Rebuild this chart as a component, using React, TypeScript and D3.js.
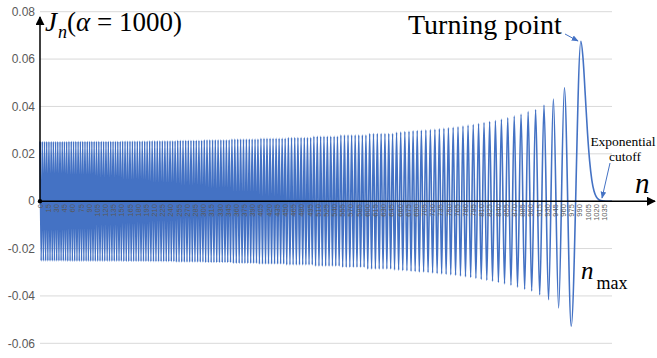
import React from 'react';
import * as d3 from 'd3';

const W = 657;
const H = 358;

// local extrema [n, J_n] (dense band on the left)
const leftExtrema: number[][] = [
  [0.1,0.0252],[2.2,-0.0252],[4.2,0.0252],[6.2,-0.0252],[8.3,0.0252],[10.3,-0.0252],[12.3,0.0252],[14.4,-0.0252],[16.4,0.0252],[18.4,-0.0252],[20.5,0.0252],[22.5,-0.0252],[24.5,0.0252],[26.5,-0.0252],[28.6,0.0252],[30.6,-0.0252],[32.6,0.0252],[34.7,-0.0252],[36.7,0.0252],[38.7,-0.0252],[40.8,0.0252],[42.8,-0.0252],[44.8,0.0252],[46.9,-0.0252],[48.9,0.0252],
  [51.0,-0.0253],[53.1,0.0253],[55.2,-0.0253],[57.3,0.0253],[59.4,-0.0253],[61.5,0.0253],[63.6,-0.0253],[65.7,0.0253],[67.8,-0.0253],[69.9,0.0253],[72.0,-0.0253],[74.1,0.0253],[76.2,-0.0253],[78.3,0.0253],[80.4,-0.0253],[82.5,0.0253],[84.6,-0.0253],[86.7,0.0253],[88.8,-0.0253],[90.9,0.0253],[93.0,-0.0253],[95.1,0.0253],[97.2,-0.0253],[99.3,0.0253],
  [101.4,-0.0253],[103.6,0.0253],[105.8,-0.0253],[107.9,0.0253],[110.1,-0.0253],[112.3,0.0253],[114.5,-0.0253],[116.6,0.0253],[118.8,-0.0253],[121.0,0.0253],[123.2,-0.0253],[125.3,0.0253],[127.5,-0.0253],[129.7,0.0253],[131.9,-0.0253],[134.0,0.0253],[136.2,-0.0253],[138.4,0.0253],[140.6,-0.0253],[142.7,0.0253],[144.9,-0.0253],[147.1,0.0253],[149.2,-0.0253],
  [151.5,0.0254],[153.7,-0.0254],[156.0,0.0254],[158.2,-0.0254],[160.5,0.0254],[162.7,-0.0254],[165.0,0.0254],[167.2,-0.0254],[169.5,0.0254],[171.7,-0.0254],[174.0,0.0254],[176.2,-0.0254],[178.5,0.0254],[180.8,-0.0254],[183.0,0.0254],[185.3,-0.0254],[187.5,0.0254],[189.8,-0.0254],[192.0,0.0254],[194.3,-0.0254],[196.5,0.0254],[198.8,-0.0254],
  [201.1,0.0255],[203.4,-0.0255],[205.7,0.0255],[208.1,-0.0255],[210.4,0.0255],[212.7,-0.0255],[215.1,0.0255],[217.4,-0.0255],[219.8,0.0255],[222.1,-0.0255],[224.4,0.0255],[226.8,-0.0255],[229.1,0.0255],[231.5,-0.0255],[233.8,0.0255],[236.1,-0.0255],[238.5,0.0255],[240.8,-0.0255],[243.2,0.0255],[245.5,-0.0255],[247.8,0.0255],
  [250.2,-0.0257],[252.6,0.0257],[255.0,-0.0257],[257.4,0.0257],[259.9,-0.0257],[262.3,0.0257],[264.7,-0.0257],[267.2,0.0257],[269.6,-0.0257],[272.0,0.0257],[274.5,-0.0257],[276.9,0.0257],[279.3,-0.0257],[281.8,0.0257],[284.2,-0.0257],[286.6,0.0257],[289.1,-0.0257],[291.5,0.0257],[293.9,-0.0257],[296.4,0.0257],[298.8,-0.0257],
  [301.3,0.0259],[303.8,-0.0259],[306.3,0.0259],[308.9,-0.0259],[311.4,0.0259],[313.9,-0.0259],[316.5,0.0259],[319.0,-0.0259],[321.5,0.0259],[324.1,-0.0259],[326.6,0.0259],[329.1,-0.0259],[331.7,0.0259],[334.2,-0.0259],[336.7,0.0259],[339.3,-0.0259],[341.8,0.0259],[344.3,-0.0259],[346.9,0.0259],[349.4,-0.0259],
  [352.0,0.0262],[354.7,-0.0262],[357.3,0.0262],[360.0,-0.0262],[362.6,0.0262],[365.3,-0.0262],[367.9,0.0262],[370.6,-0.0262],[373.2,0.0262],[375.8,-0.0262],[378.5,0.0262],[381.1,-0.0262],[383.8,0.0262],[386.4,-0.0262],[389.1,0.0262],[391.7,-0.0262],[394.4,0.0262],[397.0,-0.0262],[399.7,0.0262],
  [402.4,-0.0265],[405.2,0.0265],[408.0,-0.0265],[410.8,0.0265],[413.6,-0.0265],[416.3,0.0265],[419.1,-0.0265],[421.9,0.0265],[424.7,-0.0265],[427.4,0.0265],[430.2,-0.0265],[433.0,0.0265],[435.8,-0.0265],[438.5,0.0265],[441.3,-0.0265],[444.1,0.0265],[446.9,-0.0265],[449.6,0.0265],
  [452.5,-0.0269],[455.5,0.0269],[458.4,-0.0269],[461.3,0.0269],[464.2,-0.0269],[467.2,0.0269],[470.1,-0.0269],[473.0,0.0269],[475.9,-0.0269],[478.8,0.0269],[481.8,-0.0269],[484.7,0.0269],[487.6,-0.0269],[490.5,0.0269],[493.4,-0.0269],[496.4,0.0269],[499.3,-0.0269],
];

const midExtrema: number[][] = [
  [502.3,0.0274],[505.4,-0.0274],[508.5,0.0274],[511.6,-0.0274],[514.7,0.0274],[517.7,-0.0274],[520.8,0.0274],[523.9,-0.0274],[527.0,0.0274],[530.1,-0.0274],[533.2,0.0274],[536.3,-0.0274],[539.4,0.0274],[542.4,-0.0274],[545.5,0.0274],[548.6,-0.0274],
  [551.8,0.0279],[555.1,-0.0279],[558.4,0.0279],[561.6,-0.0279],[564.9,0.0279],[568.2,-0.0279],[571.5,0.0279],[574.8,-0.0279],[578.0,0.0279],[581.3,-0.0279],[584.6,0.0279],[587.9,-0.0279],[591.2,0.0279],[594.4,-0.0279],[597.7,0.0279],
  [601.1,-0.0286],[604.6,0.0286],[608.1,-0.0286],[611.6,0.0286],[615.1,-0.0286],[618.6,0.0286],[622.1,-0.0286],[625.6,0.0286],[629.1,-0.0286],[632.6,0.0286],[636.1,-0.0286],[639.6,0.0286],[643.1,-0.0286],[646.6,0.0286],
  [650.2,-0.0290],[653.9,0.0291],[657.7,-0.0291],[661.5,0.0292],[665.3,-0.0293],[669.1,0.0294],[672.9,-0.0294],[676.7,0.0295],[680.5,-0.0296],[684.2,0.0297],[688.0,-0.0297],[691.8,0.0298],[695.6,-0.0299],[699.4,0.0299],
  [703.5,-0.0299],[707.6,0.0300],[711.7,-0.0301],[715.9,0.0302],[720.0,-0.0303],[724.2,0.0304],[728.3,-0.0305],[732.4,0.0306],[736.6,-0.0307],[740.7,0.0308],[744.8,-0.0309],[749.0,0.0310],
  [753.3,-0.0311],[757.7,0.0312],[762.1,-0.0313],[766.6,0.0314],[771.1,-0.0316],[775.7,0.0317],[780.3,-0.0319],[785.0,0.0321],[789.8,-0.0322],[794.5,0.0324],[799.4,-0.0326],
  [804.3,0.0328],[809.2,-0.0330],[814.3,0.0332],[819.4,-0.0334],[824.6,0.0336],[829.9,-0.0338],[835.2,0.0340],[840.7,-0.0343],[846.2,0.0346],
  [851.9,-0.0349],[857.8,0.0352],[863.7,-0.0355],[869.7,0.0359],[875.7,-0.0363],[882.2,0.0367],[888.8,-0.0372],[895.2,0.0378],
];

// last swings before the turning point
const turningExtrema: number[][] = [
  [901.7,-0.0379],[908.9,0.0386],[916.4,-0.0395],[924.3,0.0405],[932.6,-0.0416],[941.5,0.0431],[951.1,-0.0451],[961.7,0.0479],[974.2,-0.0528],[991.9,0.0675],
];

// exponential decay after the turning point
const cutoffTail: number[][] = [
  [996,0.0599],[1000,0.0447],[1004,0.0291],[1008,0.0169],[1012,0.0089],[1016,0.0043],[1020,0.0019],[1025,0.0006],[1030,0.0002],[1038,0],[1049,0],
];

const yTickValues = [-0.06, -0.04, -0.02, 0, 0.02, 0.04, 0.06, 0.08];
const yTickLabels = ['-0.06', '-0.04', '-0.02', '0', '0.02', '0.04', '0.06', '0.08'];
const xTickLabels = d3.range(0, 1036, 15);
const nLast = 1049;

const blue = '#4472C4';
const grey = '#595959';
const serifStyle = { fontFamily: "'Liberation Serif', 'DejaVu Serif', serif" };
const sansStyle = { fontFamily: "'Liberation Sans', Arial, sans-serif" };

export default function App() {
  const x = d3.scaleLinear().domain([0, nLast]).range([40, 612]);
  const y = d3.scaleLinear().domain([-0.06, 0.08]).range([343.3, 11.7]);
  const y0 = y(0);

  const points = [...leftExtrema, ...midExtrema, ...turningExtrema, ...cutoffTail];
  const line = d3
    .line<number[]>()
    .x((d) => x(d[0]))
    .y((d) => y(d[1]))
    .curve(d3.curveMonotoneX);

  return (
    <svg
      width={W}
      height={H}
      viewBox={`0 0 ${W} ${H}`}
      style={{ position: 'absolute', left: 0, top: 0, background: '#fff' }}
    >
      <defs>
        <marker id="headBlack" viewBox="0 0 10 10" refX="9" refY="5" markerWidth="6" markerHeight="6" orient="auto">
          <path d="M0,0 L10,5 L0,10 z" fill="#000" />
        </marker>
        <marker id="headBlue" viewBox="0 0 10 10" refX="9" refY="5" markerWidth="7" markerHeight="7" orient="auto" markerUnits="userSpaceOnUse">
          <path d="M0,1 L10,5 L0,9 z" fill={blue} />
        </marker>
      </defs>

      {/* gridlines */}
      {yTickValues.map((v) => (
        <line key={v} x1={40} x2={612} y1={y(v)} y2={y(v)} stroke="#d9d9d9" strokeWidth={1} />
      ))}

      {/* y tick labels */}
      {yTickValues.map((v, i) => (
        <text key={'yl' + v} x={35} y={y(v)} dy="0.35em" textAnchor="end" style={sansStyle} fontSize={12} fill={grey}>
          {yTickLabels[i]}
        </text>
      ))}

      {/* the series */}
      <path d={line(points) || ''} fill="none" stroke={blue} strokeWidth={1.6} strokeLinejoin="round" />

      {/* x tick labels, rotated */}
      {xTickLabels.map((n) => (
        <text
          key={'xl' + n}
          transform={`translate(${x(n)},${y0 + 3}) rotate(-90)`}
          dy="0.35em"
          textAnchor="end"
          style={sansStyle}
          fontSize={7.5}
          fill={grey}
        >
          {n}
        </text>
      ))}

      {/* axis arrows */}
      <line x1={40} y1={y0} x2={655} y2={y0} stroke="#000" strokeWidth={1.5} markerEnd="url(#headBlack)" />
      <line x1={40} y1={y0} x2={40} y2={17} stroke="#000" strokeWidth={1.5} markerEnd="url(#headBlack)" />
      <circle cx={40} cy={y0} r={2.2} fill="#000" />

      {/* title */}
      <text x={45} y={31} style={serifStyle} fontSize={27} fill="#000">
        <tspan fontStyle="italic">J</tspan>
        <tspan fontStyle="italic" fontSize={18} dx={1} dy={7}>n</tspan>
        <tspan dy={-7}>(</tspan>
        <tspan fontStyle="italic">α</tspan>
        <tspan> = 1000)</tspan>
      </text>

      {/* annotations */}
      <text x={408} y={34} style={serifStyle} fontSize={28} fill="#000">Turning point</text>
      <line x1={565} y1={34} x2={578} y2={41} stroke={blue} strokeWidth={1} markerEnd="url(#headBlue)" />

      <text x={623} y={146} textAnchor="middle" style={serifStyle} fontSize={13.5} fill="#000">Exponential</text>
      <text x={625} y={161} textAnchor="middle" style={serifStyle} fontSize={13.5} fill="#000">cutoff</text>
      <line x1={610} y1={163} x2={602} y2={198} stroke={blue} strokeWidth={1} markerEnd="url(#headBlue)" />

      <text x={635} y={193} style={serifStyle} fontStyle="italic" fontSize={29} fill="#000">n</text>

      <text x={581} y={279} style={serifStyle} fill="#000">
        <tspan fontStyle="italic" fontSize={25}>n</tspan>
        <tspan fontSize={18} dx={3} dy={10}>max</tspan>
      </text>
    </svg>
  );
}
